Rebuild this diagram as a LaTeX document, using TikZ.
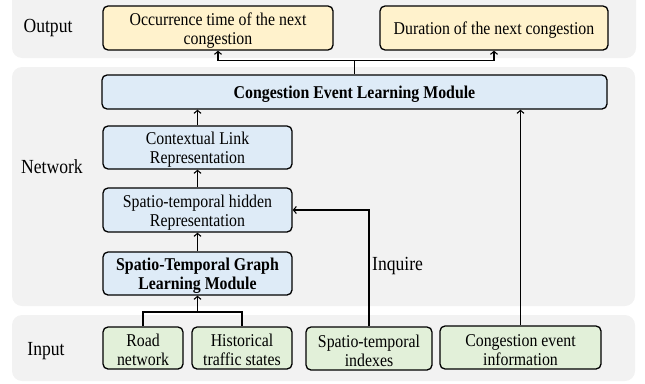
\documentclass[tikz,border=0pt]{standalone}
\usepackage{fontspec}
\setmainfont[FakeStretch=0.88]{Liberation Serif}
\usetikzlibrary{arrows.meta,calc}
\definecolor{bandgray}{HTML}{F2F2F2}
\definecolor{yellowfill}{HTML}{FFF2CC}
\definecolor{bluefill}{HTML}{DEEBF7}
\definecolor{greenfill}{HTML}{E2F0D9}
\newcommand{\dnshift}{\rule{0pt}{17pt}}
\tikzset{
  band/.style={fill=bandgray, rounded corners=10pt},
  box/.style={draw=black, line width=1.3pt, rounded corners=5pt, inner sep=0pt, align=center,
    font=\fontsize{18}{19}\selectfont},
  outbox/.style={box, fill=yellowfill},
  netbox/.style={box, fill=bluefill},
  inbox/.style={box, fill=greenfill},
  lbl/.style={font=\fontsize{20}{20}\selectfont, inner sep=0pt},
  arr/.style={line width=1.1pt, -{Straight Barb[length=3pt,width=7pt,line width=1.1pt]}},
  ln/.style={line width=1.1pt}
}
\begin{document}
\begin{tikzpicture}[x=1pt,y=-1pt]
\useasboundingbox (0,0) rectangle (645,383);
% bands
\fill[band] (12,-12) rectangle (636,58);
\fill[band] (12,67) rectangle (635,306);
\fill[band] (12,315) rectangle (635,381);
% labels
\node[lbl] (lout) at (48,28) {Output};
\node[lbl] (lnet) at (52,167) {Network};
\node[lbl] (lin) at (46,351) {Input};
% output boxes
\node[outbox, minimum width=230pt, minimum height=44pt] (occ) at (218,28) {\dnshift Occurrence time of the next\\congestion};
\node[outbox, minimum width=228pt, minimum height=44pt] (dur) at (494,28) {\dnshift Duration of the next congestion};
% network boxes
\node[netbox, minimum width=505pt, minimum height=34pt] (cel) at (354.5,92) {\dnshift\bfseries Congestion Event Learning Module};
\node[netbox, minimum width=189pt, minimum height=43pt] (ctx) at (197.5,147.5) {\dnshift Contextual Link\\Representation};
\node[netbox, minimum width=189pt, minimum height=44pt] (hid) at (197.5,210) {\dnshift Spatio-temporal hidden\\Representation};
\node[netbox, minimum width=189pt, minimum height=43pt] (stg) at (197.5,273.5) {\dnshift\bfseries Spatio-Temporal Graph\\\bfseries Learning Module};
% input boxes
\node[inbox, minimum width=80pt, minimum height=42pt] (road) at (143,348) {\dnshift Road\\network};
\node[inbox, minimum width=100pt, minimum height=42pt] (hist) at (242,348) {\dnshift Historical\\traffic states};
\node[inbox, minimum width=126pt, minimum height=43pt] (sti) at (369,348.5) {\dnshift Spatio-temporal\\indexes};
\node[inbox, minimum width=161pt, minimum height=43pt] (cei) at (520.5,347.5) {\dnshift Congestion event\\information};
% connectors
\coordinate (j1) at ($(cel.north)+(0,-14)$);
\draw[ln] (cel.north) -- (j1);
\draw[arr] (j1) -| (occ.south);
\draw[arr] (j1) -| (dur.south);
\draw[arr] (ctx.north) -- (cel.south -| ctx.north);
\draw[arr] (hid.north) -- (ctx.south);
\draw[arr] (stg.north) -- (hid.south);
\coordinate (j2) at (197.5,312);
\draw[ln] (road.north) |- (j2) -| (hist.north);
\draw[arr] (j2) -- (stg.south);
\draw[arr] (sti.north) |- (hid.east);
\draw[arr] (cei.north) -- (cei.north |- cel.south);
\node[lbl, anchor=west] (inq) at (372,266) {Inquire};
\end{tikzpicture}
\end{document}
